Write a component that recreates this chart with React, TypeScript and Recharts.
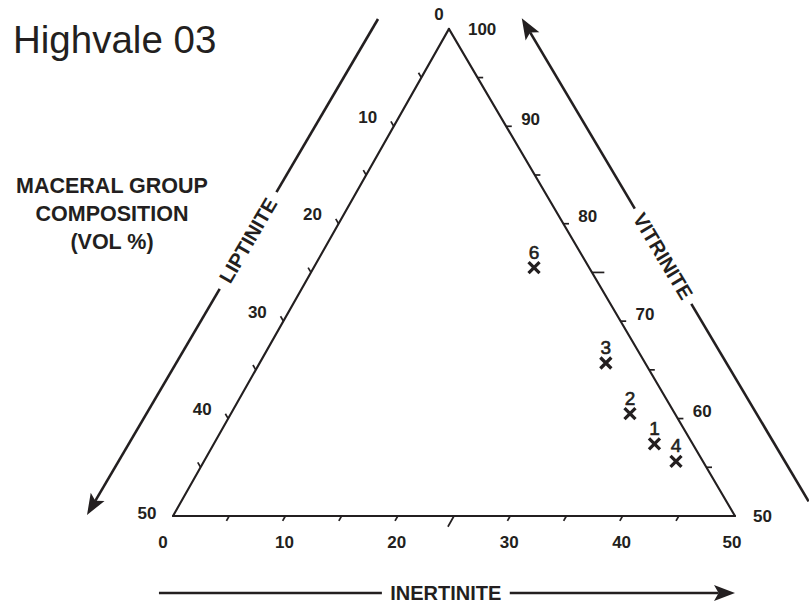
import React from "react";
import { ScatterChart, Scatter, XAxis, YAxis, ReferenceLine, ReferenceDot } from "recharts";

// Maceral group composition of the Highvale 03 samples (vol %)
const sampleIds = ["1", "2", "3", "4", "6"];
const vitrinite = [57.4, 60.5, 65.7, 55.6, 75.5];
const inertinite = [39.2, 35.5, 30.8, 42.0, 19.6];
const liptinite = [3.4, 4.0, 3.5, 2.4, 4.9];

// axis ticks (minor marks every 5, numbers every 10)
const inertiniteTicks = [5, 10, 15, 20, 25, 30, 35, 40, 45];
const inertiniteLabels = [0, 10, 20, 30, 40, 50];
const liptiniteTicks = [5, 10, 15, 20, 25, 30, 35, 40, 45];
const liptiniteLabels = [0, 10, 20, 30, 40, 50];
const vitriniteTicks = [55, 60, 65, 70, 75, 80, 85, 90, 95];
const vitriniteLabels = [50, 60, 70, 80, 90, 100];

const W = 809;
const HGT = 603;
const INK = "#231f20";
const FONT = "'Liberation Sans', Arial, Helvetica, sans-serif";

// plot units -> pixels
const ORIGIN_X = 173;
const ORIGIN_Y = 516;
const PX_X = 11.24;
const PX_Y = 11.25;
const xDomain = [-ORIGIN_X / PX_X, (W - ORIGIN_X) / PX_X];
const yDomain = [-(HGT - ORIGIN_Y) / PX_Y, ORIGIN_Y / PX_Y];

type Pt = { x: number; y: number };

// half ternary (vitrinite 50-100): inertinite runs along the base, vitrinite upward
const H = Math.sqrt(3) / 2;
const SKEW = 0.491;
const toXY = (inert: number, vit: number): Pt => ({ x: inert + (vit - 50) * SKEW, y: (vit - 50) * H });

const BL = toXY(0, 50);
const BR = toXY(50, 50);
const APEX = toXY(0, 100);

const unit = (a: Pt, b: Pt): Pt => {
  const dx = b.x - a.x;
  const dy = b.y - a.y;
  const l = Math.hypot(dx, dy);
  return { x: dx / l, y: dy / l };
};
const lerp = (a: Pt, b: Pt, t: number): Pt => ({ x: a.x + (b.x - a.x) * t, y: a.y + (b.y - a.y) * t });

type Axis = {
  key: string;
  ticks: number[];
  labels: number[];
  long: number[];
  at: (t: number) => Pt;
  dir: Pt;
  anchor: "start" | "middle" | "end";
  off: [number, number];
  cornerOff: Record<number, [number, number]>;
};

const axes: Axis[] = [
  {
    key: "inert",
    ticks: inertiniteTicks,
    labels: inertiniteLabels,
    long: [25],
    at: (t) => toXY(t, 50),
    dir: unit(APEX, BL),
    anchor: "middle",
    off: [-1, 26],
    cornerOff: { 0: [-10, 26], 50: [-3, 26] },
  },
  {
    key: "lipt",
    ticks: liptiniteTicks,
    labels: liptiniteLabels,
    long: [],
    at: (t) => toXY(0, 100 - t),
    dir: unit(BR, APEX),
    anchor: "middle",
    off: [-26, -9],
    cornerOff: { 0: [-10, -14], 50: [-26, -3] },
  },
  {
    key: "vit",
    ticks: vitriniteTicks,
    labels: vitriniteLabels,
    long: [75],
    at: (t) => toXY(100 - t, t),
    dir: { x: 1, y: 0 },
    anchor: "start",
    off: [15, -7],
    cornerOff: { 100: [19, 1], 50: [18, 0] },
  },
];

const arrows = [
  { name: "LIPTINITE", from: { x: 18.24, y: 44.18 }, to: { x: -7.65, y: 0.09 }, gap: [0.349, 0.544] },
  { name: "VITRINITE", from: { x: 56.55, y: 1.3 }, to: { x: 31.03, y: 44.24 }, gap: [0.409, 0.606] },
  { name: "INERTINITE", from: { x: -1.25, y: -6.84 }, to: { x: 50, y: -6.84 }, gap: [0.387, 0.609] },
];

const samples = sampleIds.map((id, i) => {
  const total = vitrinite[i] + inertinite[i] + liptinite[i];
  return { id, ...toXY((inertinite[i] * 100) / total, (vitrinite[i] * 100) / total) };
});

const textAngle = (a: Pt, b: Pt) => {
  let deg = (Math.atan2(-(b.y - a.y) * PX_Y, (b.x - a.x) * PX_X) * 180) / Math.PI;
  if (deg > 90) deg -= 180;
  if (deg < -90) deg += 180;
  return deg;
};

const ArrowHead = (props: any) => {
  const { x1, y1, x2, y2 } = props;
  const ang = Math.atan2(y2 - y1, x2 - x1);
  const len = 21;
  const half = 8;
  const c = Math.cos(ang);
  const s = Math.sin(ang);
  const bx = x2 - len * c;
  const by = y2 - len * s;
  const nx = x2 - len * 0.78 * c;
  const ny = y2 - len * 0.78 * s;
  return (
    <g>
      <line x1={x1} y1={y1} x2={nx} y2={ny} stroke={INK} strokeWidth={2.6} />
      <polygon
        points={`${x2},${y2} ${bx - s * half},${by + c * half} ${nx},${ny} ${bx + s * half},${by - c * half}`}
        fill={INK}
      />
    </g>
  );
};

const labelShape = (text: string | number, dx: number, dy: number, anchor: string, size: number, angle = 0) =>
  (p: any) => (
    <text
      x={p.cx + dx}
      y={p.cy + dy}
      textAnchor={anchor as any}
      dominantBaseline="central"
      fontSize={size}
      fontWeight="bold"
      fill={INK}
      fontFamily={FONT}
      transform={angle ? `rotate(${angle} ${p.cx + dx} ${p.cy + dy})` : undefined}
    >
      {text}
    </text>
  );

const SampleMark = (props: any) => {
  const { cx, cy } = props;
  const id = props.payload?.id ?? props.id;
  const s = 5.5;
  return (
    <g>
      <path
        d={`M${cx - s},${cy - s}L${cx + s},${cy + s}M${cx - s},${cy + s}L${cx + s},${cy - s}`}
        stroke={INK}
        strokeWidth={3.3}
        fill="none"
      />
      <text
        x={cx}
        y={cy - 9}
        textAnchor="middle"
        fontSize={19}
        fill={INK}
        stroke={INK}
        strokeWidth={0.6}
        fontFamily={FONT}
      >
        {id}
      </text>
    </g>
  );
};

export default function App() {
  return (
    <div style={{ position: "absolute", left: 0, top: 0, width: W, height: HGT, background: "#fff", fontFamily: FONT, color: INK }}>
      <ScatterChart width={W} height={HGT} margin={{ top: 0, right: 0, bottom: 0, left: 0 }}>
        <XAxis type="number" dataKey="x" domain={xDomain} allowDataOverflow hide />
        <YAxis type="number" dataKey="y" domain={yDomain} allowDataOverflow hide />

        {/* triangle frame */}
        {[
          [BL, BR],
          [BR, APEX],
          [APEX, BL],
        ].map(([a, b], i) => (
          <ReferenceLine key={`edge-${i}`} segment={[a, b]} stroke={INK} strokeWidth={2.1} strokeLinecap="round" ifOverflow="visible" />
        ))}

        {/* tick marks */}
        {axes.flatMap((ax) =>
          ax.ticks.map((t) => {
            const p = ax.at(t);
            const len = ax.long.includes(t) ? 1.1 : 0.5;
            const q = { x: p.x + ax.dir.x * len, y: p.y + ax.dir.y * len };
            return (
              <ReferenceLine key={`${ax.key}-t${t}`} segment={[p, q]} stroke={INK} strokeWidth={1.7} ifOverflow="visible" />
            );
          })
        )}

        {/* tick numbers */}
        {axes.flatMap((ax) =>
          ax.labels.map((t) => {
            const p = ax.at(t);
            const [dx, dy] = ax.cornerOff[t] ?? ax.off;
            return (
              <ReferenceDot
                key={`${ax.key}-l${t}`}
                x={p.x}
                y={p.y}
                r={0}
                ifOverflow="visible"
                shape={labelShape(t, dx, dy, ax.anchor, 17)}
              />
            );
          })
        )}

        {/* component arrows */}
        {arrows.flatMap((a) => {
          const g0 = lerp(a.from, a.to, a.gap[0]);
          const g1 = lerp(a.from, a.to, a.gap[1]);
          const mid = lerp(a.from, a.to, (a.gap[0] + a.gap[1]) / 2);
          return [
            <ReferenceLine key={`${a.name}-a`} segment={[a.from, g0]} stroke={INK} strokeWidth={2.6} ifOverflow="visible" />,
            <ReferenceLine key={`${a.name}-b`} segment={[g1, a.to]} ifOverflow="visible" shape={ArrowHead} />,
            <ReferenceDot
              key={`${a.name}-t`}
              x={mid.x}
              y={mid.y}
              r={0}
              ifOverflow="visible"
              shape={labelShape(a.name, 0, 0, "middle", 20, textAngle(a.from, a.to))}
            />,
          ];
        })}

        <Scatter data={samples} shape={SampleMark} isAnimationActive={false} />
      </ScatterChart>

      <div style={{ position: "absolute", left: 13, top: 21, fontSize: 38.5, lineHeight: "38px", whiteSpace: "nowrap" }}>
        Highvale 03
      </div>
      <div
        style={{
          position: "absolute",
          left: 2,
          top: 172,
          width: 220,
          textAlign: "center",
          fontSize: 21.5,
          fontWeight: "bold",
          lineHeight: "28px",
        }}
      >
        MACERAL GROUP
        <br />
        COMPOSITION
        <br />
        (VOL %)
      </div>
    </div>
  );
}
